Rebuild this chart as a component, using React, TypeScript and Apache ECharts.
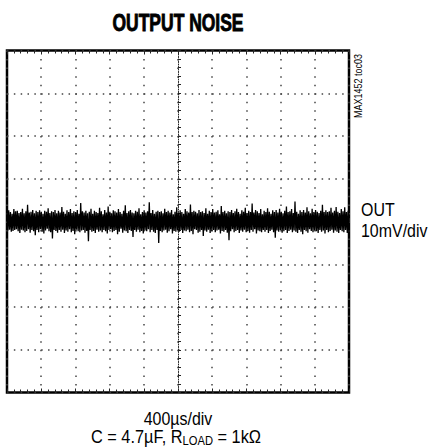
import React, { useEffect, useRef } from "react";
import * as echarts from "echarts";

const TITLE = "OUTPUT NOISE";
const CHANNEL_NAME = "OUT";
const CHANNEL_SCALE = "10mV/div";
const TIME_SCALE = "400µs/div";
const CONDITIONS_RICH = "{n|C = 4.7µF, R}{s|LOAD}{n| = 1kΩ}";
const FIGURE_ID = "MAX1452 toc03";

// time axis in µs (10 divisions of 400µs), voltage axis in mV (8 divisions of 10mV)
const TIME_MIN = -2000;
const TIME_MAX = 2000;
const TIME_DIV = 400;
const VOLT_MIN = -40;
const VOLT_MAX = 40;
const VOLT_DIV = 10;

// output noise trace, mV
const NOISE_MV = [
  2.3, -2.1, 2.6, -1.9, 2.2, -2.4, 1.8, -2.2, 2.9, -2.0, 2.4, -1.8, 2.5, -2.3, 2.0, -2.7, 2.2, -1.9, 3.0, -2.1,
  1.9, -2.5, 2.4, -2.2, 3.9, -1.8, 2.1, -2.6, 2.3, -2.0, 2.7, -2.3, 1.9, -3.2, 2.5, -2.0, 2.2, -2.5, 2.6, -1.8,
  2.3, -2.4, 1.8, -2.8, 2.5, -2.1, 2.3, -1.7, 3.1, -2.3, 2.0, -2.5, 2.4, -4.0, 2.2, -2.0, 2.7, -2.2, 1.9, -2.6,
  2.5, -2.0, 2.1, -2.4, 3.4, -1.9, 2.3, -2.7, 1.8, -2.1, 2.6, -2.4, 2.2, -1.8, 2.9, -2.5, 2.0, -2.2, 2.4, -3.0,
  2.2, -1.9, 2.7, -2.3, 1.8, -2.5, 4.3, -2.1, 2.4, -2.0, 2.1, -2.6, 2.5, -2.2, 1.9, -4.6, 2.3, -2.0, 3.0, -2.4,
  1.8, -2.2, 2.5, -2.7, 2.2, -1.9, 2.0, -2.4, 3.2, -2.1, 2.4, -2.5, 1.7, -2.0, 2.7, -2.3, 2.1, -2.8, 3.5, -2.0,
  2.3, -1.8, 1.9, -2.5, 2.6, -2.2, 2.4, -2.0, 2.1, -3.0, 2.9, -2.4, 2.2, -1.7, 1.8, -2.6, 2.5, -2.1, 3.8, -2.3,
  2.0, -2.7, 2.4, -2.0, 2.7, -2.2, 2.1, -3.6, 1.9, -2.0, 2.5, -2.4, 2.3, -1.9, 3.1, -2.5, 1.7, -2.2, 2.2, -2.8,
  2.6, -2.1, 2.1, -2.3, 2.4, -1.8, 4.5, -2.5, 2.0, -2.0, 2.7, -2.4, 1.8, -2.7, 2.3, -2.0, 2.5, -5.0, 2.2, -2.2,
  2.4, -2.5, 1.9, -2.1, 3.0, -1.9, 2.2, -2.6, 2.5, -2.3, 2.1, -1.8, 2.7, -2.8, 1.7, -2.2, 2.3, -2.4, 3.3, -2.0,
  2.0, -2.4, 2.6, -2.0, 2.2, -2.7, 1.8, -2.1, 2.9, -2.3, 2.4, -1.9, 2.1, -2.5, 4.0, -2.2, 2.2, -3.0, 2.5, -1.8,
  2.3, -2.0, 1.9, -2.6, 2.7, -2.4, 2.2, -2.0, 2.4, -3.4, 2.0, -2.1, 3.1, -2.4, 1.8, -1.9, 2.5, -2.7, 2.2, -2.3,
  2.9, -2.0, 2.1, -2.5, 2.3, -2.1, 2.6, -1.9, 1.7, -2.8, 3.6, -2.2, 2.2, -2.4, 2.5, -2.0, 1.9, -2.6, 2.4, -4.4,
  2.2, -2.3, 2.7, -1.8, 2.0, -2.5, 2.4, -2.2, 3.0, -2.0, 2.2, -2.7, 1.8, -2.1, 2.6, -2.4, 2.3, -1.9, 3.2, -2.5,
  1.9, -2.2, 2.5, -2.6, 2.2, -2.0, 4.2, -2.4, 2.1, -1.8, 2.7, -2.8, 2.4, -2.1, 2.0, -2.3, 2.9, -2.5, 1.7, -2.0,
  2.5, -2.4, 2.2, -2.0, 3.1, -2.7, 2.3, -2.2, 1.8, -1.9, 2.6, -2.5, 2.2, -3.8, 2.7, -2.1, 2.1, -2.4, 3.0, -2.0,
  2.3, -2.6, 1.9, -2.3, 2.5, -2.0, 3.5, -2.7, 2.2, -2.2, 2.4, -1.9, 2.9, -2.5, 2.0, -2.1, 4.7, -2.4, 2.3, -2.7,
  1.8, -2.0, 2.6, -2.4, 2.2, -3.0, 2.7, -2.0, 2.1, -2.3, 3.3, -2.6, 2.4, -1.8, 1.9, -2.2, 3.0, -2.5, 2.2, -2.1,
  2.7, -2.3, 2.3, -2.7, 2.0, -2.0, 2.5, -2.4, 3.9, -2.1, 2.2, -2.8, 2.6, -2.0, 2.2, -2.5, 2.4, -2.2, 3.2, -1.9,
  2.1, -2.6, 2.5, -2.1, 3.4, -2.4, 2.3, -2.7, 2.0, -2.0, 2.9, -2.3, 2.4, -2.5, 3.3, -2.0, 2.2, -2.7, 2.5, -2.3,
];

const FONT = '"Liberation Sans", Arial, sans-serif';
const NARROW = 0.84;

export default function App() {
  const ref = useRef<HTMLDivElement>(null);

  useEffect(() => {
    if (!ref.current) return;
    const chart = echarts.init(ref.current, undefined, { renderer: "svg" });

    const gridLeft = 7;
    const gridTop = 50.5;
    const gridWidth = 342;
    const gridHeight = 342;
    const vDot = gridHeight / 8 / 5;
    const hDot = gridWidth / 10 / 5;
    const tickColor = "#222";

    const noiseData = NOISE_MV.map((v, i) => [
      TIME_MIN + (i * (TIME_MAX - TIME_MIN)) / (NOISE_MV.length - 1),
      v,
    ]);

    const xBase: any = {
      type: "value",
      min: TIME_MIN,
      max: TIME_MAX,
      interval: TIME_DIV,
      axisLabel: { show: false },
      splitLine: { show: false },
    };
    const yBase: any = {
      type: "value",
      min: VOLT_MIN,
      max: VOLT_MAX,
      interval: VOLT_DIV,
      axisLabel: { show: false },
      splitLine: { show: false },
    };
    const tick = (inside: boolean, len: number) => ({
      show: true,
      inside,
      length: len,
      lineStyle: { color: tickColor, width: 1 },
    });
    const minor = (len: number) => ({
      show: true,
      splitNumber: 5,
      length: len,
      lineStyle: { color: tickColor, width: 1 },
    });

    chart.setOption({
      animation: false,
      backgroundColor: "#fff",
      grid: {
        left: gridLeft,
        top: gridTop,
        width: gridWidth,
        height: gridHeight,
        show: true,
        borderColor: "#000",
        borderWidth: 2.5,
        containLabel: false,
        outerBoundsMode: "none",
      },
      xAxis: [
        {
          ...xBase,
          axisLine: {
            show: true,
            onZero: true,
            onZeroAxisIndex: 0,
            lineStyle: { color: tickColor, width: 1, type: [1, 1.5] },
          },
          axisTick: tick(true, 3),
          minorTick: minor(3),
          splitLine: {
            show: true,
            lineStyle: { color: "#444", width: 1.5, type: [1.5, vDot - 1.5] },
          },
        },
        {
          ...xBase,
          axisLine: { show: false, onZero: true, onZeroAxisIndex: 0 },
          axisTick: tick(false, 3),
          minorTick: minor(3),
        },
        {
          ...xBase,
          position: "bottom",
          axisLine: { show: false, onZero: false },
          axisTick: tick(true, 4),
          minorTick: minor(3),
        },
        {
          ...xBase,
          position: "top",
          axisLine: { show: false, onZero: false },
          axisTick: tick(true, 4),
          minorTick: minor(3),
        },
      ],
      yAxis: [
        {
          ...yBase,
          axisLine: {
            show: true,
            onZero: true,
            onZeroAxisIndex: 0,
            lineStyle: { color: tickColor, width: 1, type: [1, 1.5] },
          },
          axisTick: tick(true, 3),
          minorTick: minor(3),
          splitLine: {
            show: true,
            lineStyle: { color: "#444", width: 1.5, type: [1.5, hDot - 1.5] },
          },
        },
        {
          ...yBase,
          axisLine: { show: false, onZero: true, onZeroAxisIndex: 0 },
          axisTick: tick(false, 3),
          minorTick: minor(3),
        },
      ],
      series: [
        {
          type: "line",
          xAxisIndex: 0,
          yAxisIndex: 0,
          data: noiseData,
          showSymbol: false,
          symbol: "none",
          silent: true,
          z: 5,
          lineStyle: { color: "#000", width: 1.3 },
        },
      ],
      graphic: [
        {
          type: "text",
          x: 178,
          y: 23,
          scaleX: 0.76,
          style: {
            text: TITLE,
            fill: "#000",
            stroke: "#000",
            lineWidth: 0.9,
            font: `bold 23px ${FONT}`,
            align: "center",
            verticalAlign: "middle",
          },
        },
        {
          type: "text",
          x: 361,
          y: 210,
          scaleX: NARROW,
          style: {
            text: CHANNEL_NAME,
            fill: "#000",
            font: `19px ${FONT}`,
            align: "left",
            verticalAlign: "middle",
          },
        },
        {
          type: "text",
          x: 361,
          y: 231,
          scaleX: NARROW,
          style: {
            text: CHANNEL_SCALE,
            fill: "#000",
            font: `19px ${FONT}`,
            align: "left",
            verticalAlign: "middle",
          },
        },
        {
          type: "text",
          x: 178,
          y: 419,
          scaleX: NARROW,
          style: {
            text: TIME_SCALE,
            fill: "#000",
            font: `19px ${FONT}`,
            align: "center",
            verticalAlign: "middle",
          },
        },
        {
          type: "text",
          x: 176,
          y: 437,
          scaleX: 0.86,
          style: {
            text: CONDITIONS_RICH,
            align: "center",
            verticalAlign: "middle",
            rich: {
              n: { fontSize: 19, fontFamily: FONT, fill: "#000", lineHeight: 20 },
              s: { fontSize: 13, fontFamily: FONT, fill: "#000", lineHeight: 12, verticalAlign: "bottom" },
            },
          },
        },
        {
          type: "text",
          x: 358,
          y: 86,
          rotation: Math.PI / 2,
          scaleX: 0.82,
          style: {
            text: FIGURE_ID,
            fill: "#000",
            font: `11px ${FONT}`,
            align: "center",
            verticalAlign: "middle",
          },
        },
      ],
    });

    return () => chart.dispose();
  }, []);

  return (
    <div
      ref={ref}
      style={{ position: "absolute", left: 0, top: 0, width: 428, height: 447 }}
    />
  );
}
